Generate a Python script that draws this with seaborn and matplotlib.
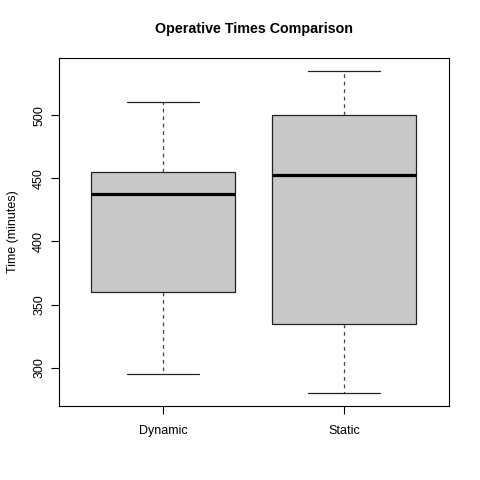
import pandas as pd
import seaborn as sns
import matplotlib.pyplot as plt

# five-number summaries (min, Q1, median, Q3, max)
groups = ['Dynamic', 'Static']
dynamic_times = [295, 360, 437.5, 455, 510]
static_times = [280, 335, 452.5, 500, 535]

df = pd.DataFrame({
    'Group': ['Dynamic'] * len(dynamic_times) + ['Static'] * len(static_times),
    'Time': dynamic_times + static_times,
})

sns.set_style('white')
plt.rcParams['font.family'] = ['Liberation Sans', 'DejaVu Sans']
plt.rcParams['text.color'] = 'black'
plt.rcParams['axes.labelcolor'] = 'black'

fig = plt.figure(figsize=(4.8, 4.8), dpi=100)
ax = fig.add_axes([59 / 480, 1 - 406 / 480, 390 / 480, 348 / 480])

sns.boxplot(data=df, x='Group', y='Time', order=groups, ax=ax,
            color='#C8C8C8', saturation=1, width=0.8, linecolor='#222222',
            linewidth=0.9, whis=1.5, showfliers=False,
            whiskerprops=dict(linestyle=(0, (3, 3)), color='#444444'),
            medianprops=dict(linewidth=2.3, color='black'))

ax.set_xlim(-0.575, 1.58)
ax.set_ylim(269.8, 545.2)
ax.set_yticks([300, 350, 400, 450, 500])
ax.set_xlabel('')
ax.set_ylabel('Time (minutes)', fontsize=9, labelpad=10, color='black')
ax.set_title('Operative Times Comparison', fontsize=10.3, fontweight='bold',
             pad=18, color='black')

ax.tick_params(axis='both', direction='out', length=6, width=0.8, colors='black',
               labelcolor='black', labelsize=9, bottom=True, left=True)
ax.tick_params(axis='x', pad=8)
ax.tick_params(axis='y', pad=4)
for lbl in ax.get_yticklabels():
    lbl.set_rotation(90)
    lbl.set_va('center')
for s in ax.spines.values():
    s.set_color('black')
    s.set_linewidth(0.8)

fig.savefig('out.png', dpi=100)
